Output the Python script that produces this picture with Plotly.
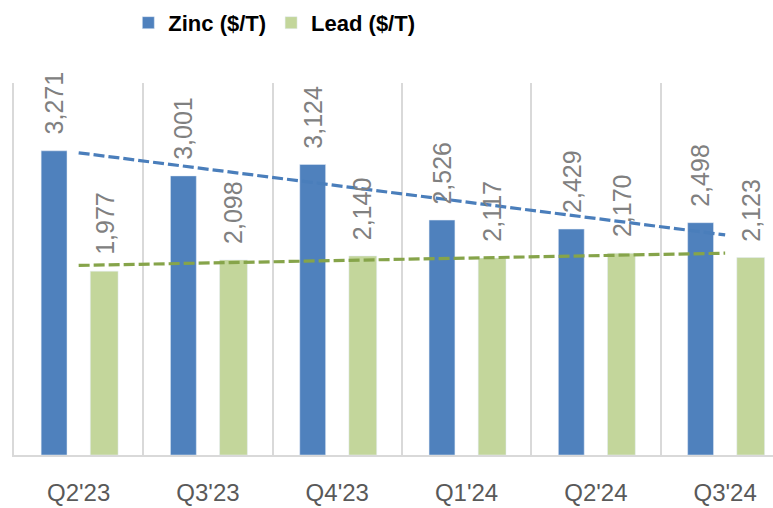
import numpy as np
import plotly.graph_objects as go

categories = ["Q2'23", "Q3'23", "Q4'23", "Q1'24", "Q2'24", "Q3'24"]
zinc = [3271, 3001, 3124, 2526, 2429, 2498]
lead = [1977, 2098, 2140, 2117, 2170, 2123]

ZINC_COLOR = "#4F81BD"
LEAD_COLOR = "#C3D69B"
ZINC_TREND = "#4A7EBB"
LEAD_TREND = "#86A44A"
LABEL_COLOR = "#808080"

idx = np.arange(len(categories))

Z_OFF, Z_W = -0.29, 0.20
L_OFF, L_W = 0.09, 0.215

fig = go.Figure()
fig.add_trace(go.Bar(x=idx, y=zinc, name="Zinc ($/T)", marker_color=ZINC_COLOR,
                     offset=Z_OFF, width=Z_W, hoverinfo="y"))
fig.add_trace(go.Bar(x=idx, y=lead, name="Lead ($/T)", marker_color=LEAD_COLOR,
                     offset=L_OFF, width=L_W, hoverinfo="y"))

# linear trendlines (regression of the series)
zc = np.polyfit(idx, zinc, 1)
lc = np.polyfit(idx, lead, 1)
fig.add_trace(go.Scatter(x=idx, y=np.polyval(zc, idx), mode="lines", showlegend=False,
                         line=dict(color=ZINC_TREND, width=3.2, dash="11px,4px"), hoverinfo="skip"))
fig.add_trace(go.Scatter(x=idx, y=np.polyval(lc, idx), mode="lines", showlegend=False,
                         line=dict(color=LEAD_TREND, width=3.2, dash="11px,4px"), hoverinfo="skip"))

annotations = []
for i in idx:
    for vals, off, w in ((zinc, Z_OFF, Z_W), (lead, L_OFF, L_W)):
        annotations.append(dict(
            x=i + off + w / 2, y=vals[i], xref="x", yref="y",
            text=f"{vals[i]:,}", showarrow=False, textangle=-90,
            xanchor="center", yanchor="bottom", yshift=14,
            font=dict(family="Liberation Sans, Arial, sans-serif", size=25, color=LABEL_COLOR),
        ))

fig.update_layout(
    width=773, height=508,
    margin=dict(l=14, r=0, t=83, b=53),
    paper_bgcolor="white", plot_bgcolor="white",
    barmode="overlay",
    showlegend=True,
    legend=dict(orientation="h", xref="container", yref="container",
                x=0.166, y=0.955, xanchor="left", yanchor="middle",
                font=dict(family="Liberation Sans, Arial, sans-serif",
                          size=22, color="black", weight="bold"),
                bgcolor="rgba(0,0,0,0)"),
    annotations=annotations,
    xaxis=dict(range=[-0.5, 5.37], tickvals=idx, ticktext=categories,
               showgrid=False, zeroline=False,
               showline=True, linecolor="#D9D9D9", linewidth=2,
               ticks="", ticklabelstandoff=15,
               tickfont=dict(family="Liberation Sans, Arial, sans-serif", size=24, color="#595959"),
               minor=dict(tickvals=list(idx + 0.5), showgrid=True, gridcolor="#D9D9D9", gridwidth=2, ticks=""),
               fixedrange=True),
    yaxis=dict(range=[0, 4000], showgrid=False, zeroline=False, showticklabels=False,
               showline=True, linecolor="#D9D9D9", linewidth=2, ticks="", fixedrange=True),
)

fig.write_html("out.html", config={"displayModeBar": False},
               post_script="document.body.style.margin='0px';")
